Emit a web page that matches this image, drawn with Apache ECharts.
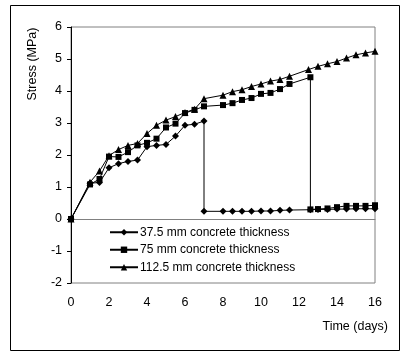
<!DOCTYPE html>
<html>
<head>
<meta charset="utf-8">
<script src="https://cdn.jsdelivr.net/npm/echarts@6/dist/echarts.min.js"></script>
<style>
  html, body { margin: 0; padding: 0; background: #fff; }
  #chart { width: 401px; height: 352px; }
</style>
</head>
<body>
<div id="chart"></div>
<script>
// 37.5 mm concrete thickness (drops at day 7)
const days37 = [0, 1, 1.5, 2, 2.5, 3, 3.5, 4, 4.5, 5, 5.5, 6, 6.5, 7, 7, 8, 8.5, 9, 9.5, 10, 10.5, 11, 11.5, 12.6, 13, 13.5, 14, 14.5, 15, 15.5, 16];
const stress37 = [0, 1.12, 1.14, 1.6, 1.73, 1.8, 1.84, 2.26, 2.3, 2.33, 2.59, 2.93, 2.96, 3.06, 0.24, 0.24, 0.24, 0.24, 0.24, 0.25, 0.25, 0.27, 0.28, 0.29, 0.3, 0.3, 0.31, 0.31, 0.32, 0.32, 0.32];

// 75 mm concrete thickness (drops at day 12.6)
const days75 = [0, 1, 1.5, 2, 2.5, 3, 3.5, 4, 4.5, 5, 5.5, 6, 6.5, 7, 8, 8.5, 9, 9.5, 10, 10.5, 11, 11.5, 12.6, 12.6, 13, 13.5, 14, 14.5, 15, 15.5, 16];
const stress75 = [0, 1.08, 1.25, 1.95, 1.94, 2.09, 2.3, 2.38, 2.51, 2.86, 2.98, 3.31, 3.41, 3.52, 3.56, 3.62, 3.72, 3.78, 3.91, 3.94, 4.06, 4.22, 4.43, 0.3, 0.31, 0.33, 0.37, 0.41, 0.41, 0.41, 0.43];

// 112.5 mm concrete thickness
const days112 = [0, 1, 1.5, 2, 2.5, 3, 3.5, 4, 4.5, 5, 5.5, 6, 6.5, 7, 8, 8.5, 9, 9.5, 10, 10.5, 11, 11.5, 12.5, 13, 13.5, 14, 14.5, 15, 15.5, 16];
const stress112 = [0, 1.15, 1.5, 1.98, 2.17, 2.3, 2.36, 2.67, 2.93, 3.09, 3.2, 3.33, 3.43, 3.76, 3.87, 3.98, 4.04, 4.14, 4.22, 4.31, 4.36, 4.46, 4.67, 4.77, 4.85, 4.92, 5.03, 5.13, 5.19, 5.24];

const seriesNames = ['37.5 mm concrete thickness', '75 mm concrete thickness', '112.5 mm concrete thickness'];

const pairs = (xs, ys) => xs.map((x, i) => [x, ys[i]]);

const font = 'Liberation Sans, Arial, sans-serif';
const chart = echarts.init(document.getElementById('chart'), null, {renderer: 'canvas'});

const lineSeries = (name, data, symbol, size) => ({
    name: name,
    type: 'line',
    data: data,
    symbol: symbol,
    symbolSize: size,
    showAllSymbol: true,
    lineStyle: {color: '#000', width: 1},
    itemStyle: {color: '#000'}
});

chart.setOption({
    animation: false,
    textStyle: {fontFamily: font},
    grid: {left: 71, top: 27, right: 26, bottom: 69, show: true, borderColor: '#808080', borderWidth: 1},
    legend: {
        orient: 'vertical',
        left: 109,
        top: 226,
        padding: 0,
        itemWidth: 28,
        itemHeight: 8,
        itemGap: 5,
        textStyle: {fontSize: 12, color: '#000', fontFamily: font, lineHeight: 12.5, padding: [0, 0, 0, -3]},
        data: seriesNames
    },
    xAxis: {
        type: 'value',
        min: 0,
        max: 16,
        interval: 2,
        axisLine: {show: true, lineStyle: {color: '#808080'}},
        axisTick: {show: false},
        splitLine: {show: false},
        axisLabel: {fontSize: 12.5, color: '#000', margin: 13, fontFamily: font}
    },
    yAxis: {
        type: 'value',
        min: -2,
        max: 6,
        interval: 1,
        axisLine: {show: true, onZero: false, lineStyle: {color: '#000'}},
        axisTick: {show: true, length: 4, lineStyle: {color: '#000'}},
        splitLine: {show: false},
        axisLabel: {fontSize: 12.5, color: '#000', margin: 9, fontFamily: font}
    },
    graphic: [
        {
            type: 'rect',
            shape: {x: 10.5, y: 5.5, width: 389, height: 345},
            style: {fill: 'none', stroke: '#000', lineWidth: 1},
            silent: true
        },
        {
            type: 'text',
            x: 33,
            y: 64,
            rotation: Math.PI / 2,
            style: {text: 'Stress (MPa)', font: '12.5px ' + font, fill: '#000', align: 'center', verticalAlign: 'middle'}
        },
        {
            type: 'text',
            x: 388,
            y: 327,
            style: {text: 'Time (days)', font: '12.5px ' + font, fill: '#000', align: 'right', verticalAlign: 'middle'}
        }
    ],
    series: [
        lineSeries(seriesNames[0], pairs(days37, stress37), 'diamond', 7),
        lineSeries(seriesNames[1], pairs(days75, stress75), 'rect', 6),
        lineSeries(seriesNames[2], pairs(days112, stress112), 'triangle', 7)
    ]
});
</script>
</body>
</html>
